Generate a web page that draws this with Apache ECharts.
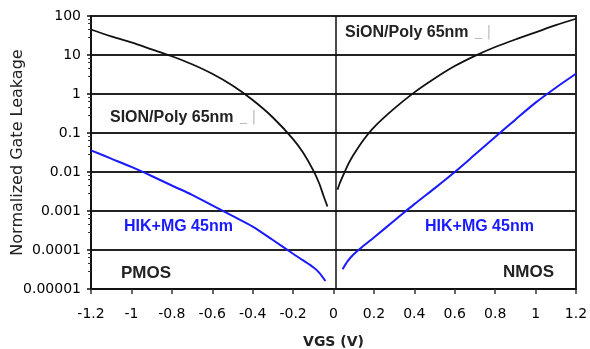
<!DOCTYPE html>
<html>
<head>
<meta charset="utf-8">
<script src="https://cdn.jsdelivr.net/npm/echarts@6/dist/echarts.min.js"></script>
<style>
html,body{margin:0;padding:0;background:#fff;}
#chart{width:590px;height:349px;}
</style>
</head>
<body>
<div id="chart"></div>
<script>
// ---- data ----
const xTicks = [-1.2, -1, -0.8, -0.6, -0.4, -0.2, 0, 0.2, 0.4, 0.6, 0.8, 1, 1.2];
const yTickLabels = ['0.00001', '0.0001', '0.001', '0.01', '0.1', '1', '10', '100'];

const sionPmosX = [-1.2, -1.1, -1.0, -0.9, -0.8, -0.7, -0.6, -0.5, -0.4, -0.3, -0.2, -0.15, -0.1, -0.07, -0.05, -0.03];
const sionPmosY = [45, 30, 21, 14, 9.3, 5.8, 3.3, 1.65, 0.7, 0.25, 0.07, 0.031, 0.011, 0.005, 0.0025, 0.0013];

const sionNmosX = [0.02, 0.03, 0.05, 0.075, 0.1, 0.15, 0.2, 0.3, 0.4, 0.5, 0.6, 0.7, 0.8, 0.9, 1.0, 1.1, 1.2];
const sionNmosY = [0.0035, 0.005, 0.0087, 0.0166, 0.028, 0.068, 0.14, 0.42, 1.1, 2.5, 5.2, 9.5, 16, 25, 38, 58, 85];

const hkPmosX = [-1.2, -1.1, -1.0, -0.9, -0.8, -0.7, -0.6, -0.5, -0.4, -0.3, -0.2, -0.15, -0.1, -0.07, -0.04];
const hkPmosY = [0.036, 0.022, 0.0135, 0.0079, 0.0045, 0.0026, 0.0014, 0.00075, 0.0004, 0.00018, 0.00008, 0.000054, 0.000036, 0.000026, 0.000016];

const hkNmosX = [0.045, 0.07, 0.1, 0.15, 0.2, 0.3, 0.4, 0.5, 0.6, 0.7, 0.8, 0.9, 1.0, 1.1, 1.2];
const hkNmosY = [0.000032, 0.000052, 0.000078, 0.00013, 0.00021, 0.00056, 0.0015, 0.0038, 0.01, 0.028, 0.079, 0.22, 0.6, 1.45, 3.3];

const zip = (xs, ys) => xs.map((x, i) => [x, ys[i]]);

const FONT = 'DejaVu Sans';
const chart = echarts.init(document.getElementById('chart'), null, {renderer: 'canvas'});

const blackLine = {color: '#111', width: 1.8};
const blueLine = {color: '#1a1aff', width: 2};
const common = {type: 'line', showSymbol: false, smooth: 0.3};

chart.setOption({
  animation: false,
  backgroundColor: '#fff',
  grid: {left: 91, right: 14, top: 16, bottom: 60, containLabel: false, outerBoundsMode: 'none',
    show: true, borderColor: '#111', borderWidth: 1.8, backgroundColor: 'transparent'},
  xAxis: {
    type: 'value', min: -1.2, max: 1.2, interval: 0.2,
    name: 'VGS (V)', nameLocation: 'middle', nameGap: 46, nameMoveOverlap: false,
    nameTextStyle: {fontFamily: FONT, fontSize: 14, fontWeight: 'bold', color: '#222'},
    axisLine: {show: true, onZero: false, lineStyle: {color: '#111', width: 1.8}},
    axisTick: {show: true, length: 5, lineStyle: {color: '#333', width: 1.5}},
    axisLabel: {margin: 18, fontFamily: FONT, fontSize: 14, color: '#000',
      formatter: v => String(+v.toFixed(1))},
    splitLine: {show: false}
  },
  yAxis: {
    type: 'log', logBase: 10, min: 0.00001, max: 100,
    name: 'Normalized Gate Leakage', nameLocation: 'middle', nameGap: 65, nameRotate: 90, nameMoveOverlap: false,
    nameTextStyle: {fontFamily: FONT, fontSize: 16, color: '#222'},
    axisLine: {show: true, onZero: false, lineStyle: {color: '#111', width: 1.8}},
    axisTick: {show: true, length: 4, lineStyle: {color: '#111', width: 1.5}},
    minorTick: {show: true, splitNumber: 5, length: 3, lineStyle: {color: '#333', width: 1}},
    axisLabel: {margin: 10, fontFamily: FONT, fontSize: 14, color: '#000',
      formatter: v => yTickLabels[Math.round(Math.log10(v)) + 5]},
    splitLine: {show: true, lineStyle: {color: '#222', width: 1.8}}
  },
  series: [
    Object.assign({name: 'SiON/Poly PMOS', data: zip(sionPmosX, sionPmosY), lineStyle: blackLine,
      markLine: {silent: true, symbol: 'none', label: {show: false}, lineStyle: {color: '#111', width: 1.5, type: 'solid'}, data: [{xAxis: 0.015}]}}, common),
    Object.assign({name: 'SiON/Poly NMOS', data: zip(sionNmosX, sionNmosY), lineStyle: blackLine}, common),
    Object.assign({name: 'HIK+MG PMOS', data: zip(hkPmosX, hkPmosY), lineStyle: blueLine}, common),
    Object.assign({name: 'HIK+MG NMOS', data: zip(hkNmosX, hkNmosY), lineStyle: blueLine}, common)
  ],
  graphic: [
    {type: 'text', left: 110, top: 110, style: {text: 'SION/Poly 65nm', font: 'bold 16px "Liberation Sans"', fill: '#222'}},
    {type: 'text', left: 240, top: 110, style: {text: '_ |', font: '14px "DejaVu Sans"', fill: '#bbb'}},
    {type: 'text', left: 345, top: 25, style: {text: 'SiON/Poly 65nm', font: 'bold 16px "Liberation Sans"', fill: '#222'}},
    {type: 'text', left: 475, top: 25, style: {text: '_ |', font: '14px "DejaVu Sans"', fill: '#bbb'}},
    {type: 'text', left: 124, top: 219, style: {text: 'HIK+MG 45nm', font: 'bold 16px "Liberation Sans"', fill: '#1a1aff'}},
    {type: 'text', left: 425, top: 219, style: {text: 'HIK+MG 45nm', font: 'bold 16px "Liberation Sans"', fill: '#1a1aff'}},
    {type: 'text', left: 121, top: 265, style: {text: 'PMOS', font: 'bold 17px "Liberation Sans"', fill: '#222'}},
    {type: 'text', left: 503, top: 264, style: {text: 'NMOS', font: 'bold 17px "Liberation Sans"', fill: '#222'}}
  ]
});
</script>
</body>
</html>
